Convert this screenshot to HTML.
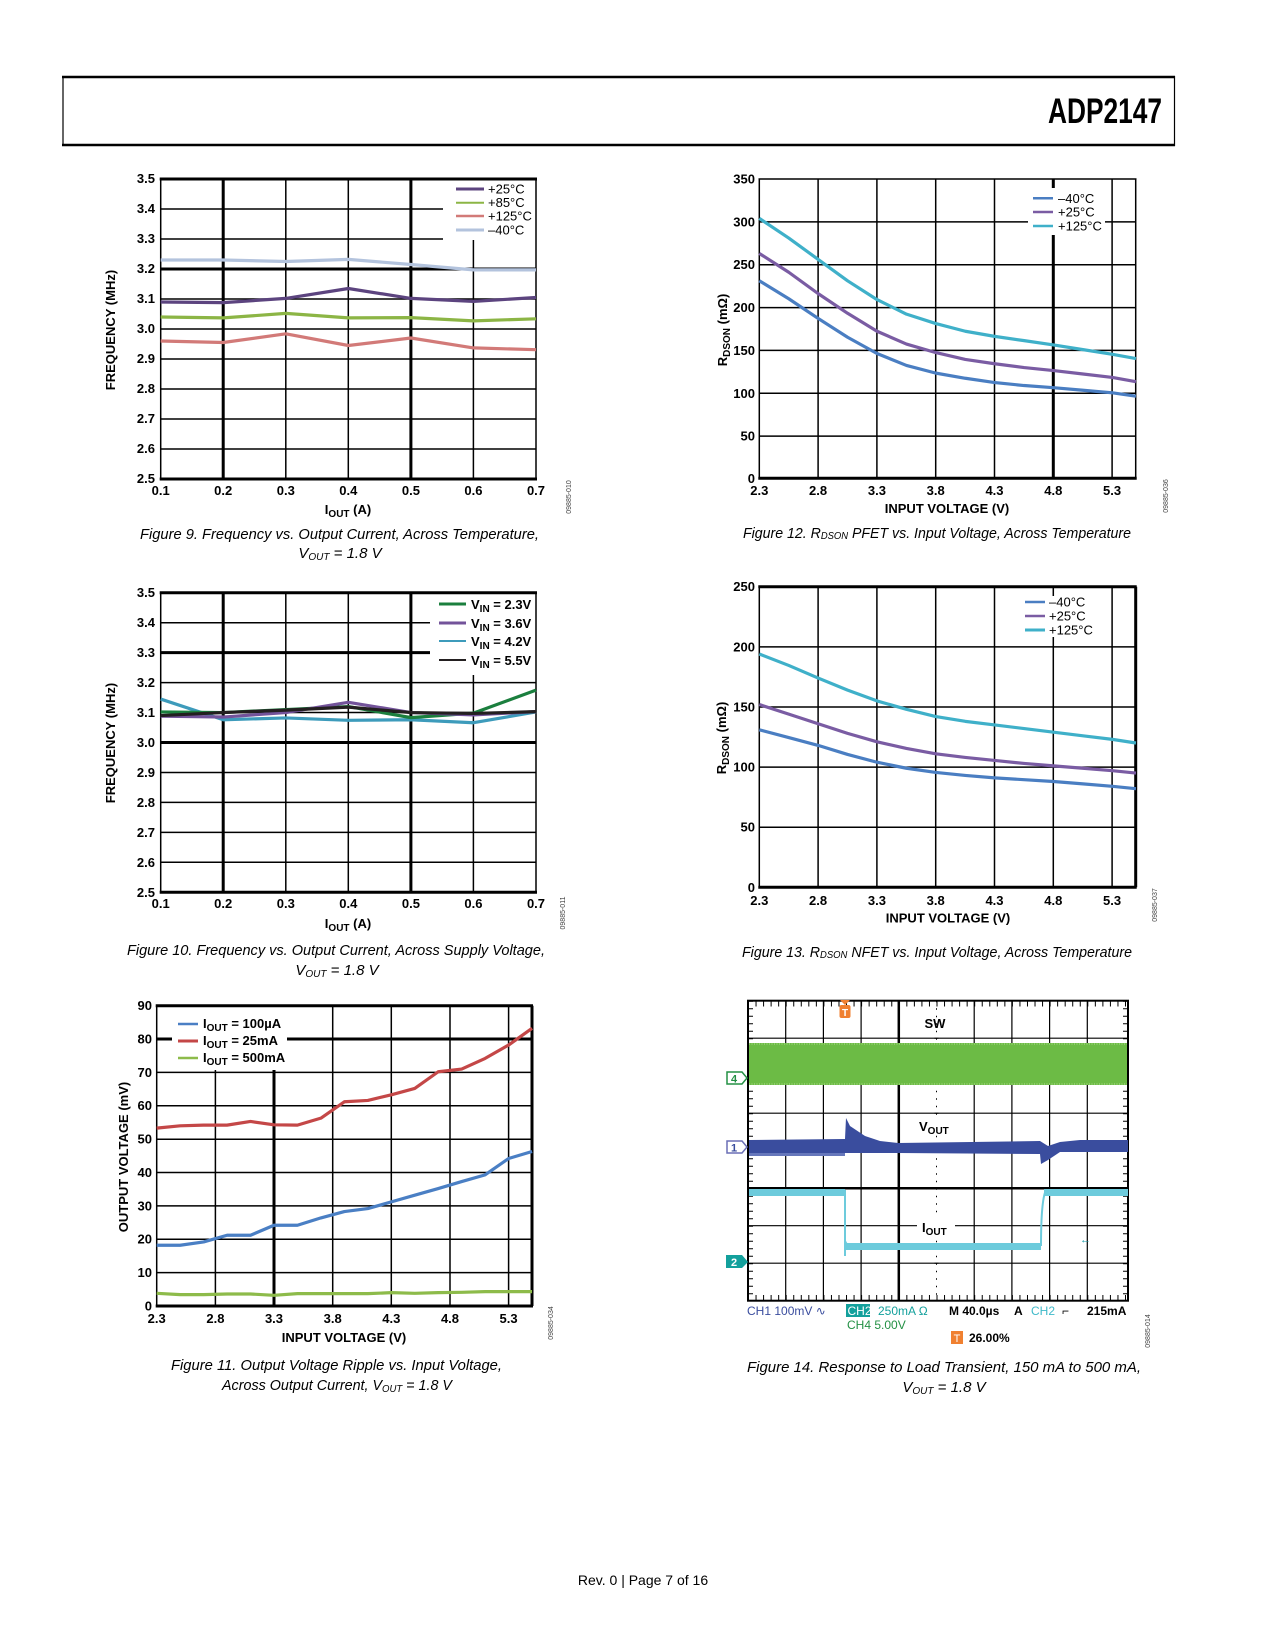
<!DOCTYPE html>
<html><head><meta charset="utf-8"><style>
html,body{margin:0;padding:0;background:#fff;}
svg{display:block;}
.t{font-family:"Liberation Sans",sans-serif;font-weight:bold;font-size:13px;fill:#000;}
.tk{font-family:"Liberation Sans",sans-serif;font-weight:bold;font-size:13px;fill:#000;}
.lg{font-family:"Liberation Sans",sans-serif;font-size:13px;fill:#000;}
.cap{font-family:"Liberation Sans",sans-serif;font-style:italic;font-size:15px;fill:#000;}
.code{font-family:"Liberation Sans",sans-serif;font-size:7px;fill:#444;}
.g{stroke:#000;stroke-width:1.5;fill:none;}
.gk{stroke:#000;stroke-width:3;fill:none;}
.s{fill:none;stroke-width:3.2;vector-effect:non-scaling-stroke;stroke-linejoin:round;}
.sc{font-family:"Liberation Sans",sans-serif;font-weight:bold;font-size:13px;}
</style></head><body>
<svg width="1275" height="1650" viewBox="0 0 1275 1650" xmlns="http://www.w3.org/2000/svg">
<rect width="1275" height="1650" fill="#fff"/>
<!-- header -->
<line x1="62" y1="77" x2="1175" y2="77" stroke="#000" stroke-width="2.5"/>
<line x1="62" y1="145" x2="1175" y2="145" stroke="#000" stroke-width="2.5"/>
<line x1="63" y1="76" x2="63" y2="146" stroke="#000" stroke-width="1.2"/>
<line x1="1174.5" y1="76" x2="1174.5" y2="146" stroke="#000" stroke-width="1.2"/>
<text x="1048" y="123" font-family="Liberation Sans Narrow, Liberation Sans, sans-serif" font-weight="bold" font-size="35" textLength="114" lengthAdjust="spacingAndGlyphs">ADP2147</text>

<!-- ===== FIG 9 ===== -->
<g>
<line class="g" x1="285.8" y1="179" x2="285.8" y2="479"/><line class="g" x1="348.3" y1="179" x2="348.3" y2="479"/>
<line class="g" x1="473.4" y1="240" x2="473.4" y2="479"/>
<line class="gk" x1="223.2" y1="179" x2="223.2" y2="479"/><line class="gk" x1="410.9" y1="179" x2="410.9" y2="479"/>
<line class="g" x1="160.7" y1="209" x2="443" y2="209"/><line class="g" x1="160.7" y1="239" x2="443" y2="239"/>
<line class="gk" x1="160.7" y1="269" x2="536" y2="269"/>
<line class="g" x1="160.7" y1="299" x2="536" y2="299"/><line class="g" x1="160.7" y1="329" x2="536" y2="329"/>
<line class="g" x1="160.7" y1="359" x2="536" y2="359"/><line class="g" x1="160.7" y1="389" x2="536" y2="389"/>
<line class="g" x1="160.7" y1="419" x2="536" y2="419"/><line class="g" x1="160.7" y1="449" x2="536" y2="449"/>
<line class="gk" x1="159.7" y1="179" x2="537" y2="179"/><line class="gk" x1="159.7" y1="479" x2="537" y2="479"/>
<line class="g" x1="160.7" y1="179" x2="160.7" y2="479"/><line class="g" x1="536" y1="179" x2="536" y2="479"/>
<g transform="translate(98.15,1229) scale(625.5,-300)">
<polyline class="s" stroke="#b3c3dd" points="0.1,3.23 0.2,3.23 0.3,3.225 0.4,3.232 0.5,3.215 0.6,3.197 0.7,3.197"/>
<polyline class="s" stroke="#5c447f" points="0.1,3.09 0.2,3.088 0.3,3.102 0.4,3.135 0.5,3.102 0.6,3.092 0.7,3.105"/>
<polyline class="s" stroke="#8cb545" points="0.1,3.04 0.2,3.037 0.3,3.052 0.4,3.037 0.5,3.038 0.6,3.027 0.7,3.034"/>
<polyline class="s" stroke="#d27a78" points="0.1,2.96 0.2,2.955 0.3,2.984 0.4,2.945 0.5,2.97 0.6,2.937 0.7,2.931"/>
</g>
<line x1="456" y1="189" x2="484" y2="189" stroke="#5c447f" stroke-width="3"/><text class="lg" x="488" y="193.5">+25°C</text>
<line x1="456" y1="202.7" x2="484" y2="202.7" stroke="#8cb545" stroke-width="2"/><text class="lg" x="488" y="207">+85°C</text>
<line x1="456" y1="216" x2="484" y2="216" stroke="#d27a78" stroke-width="2.5"/><text class="lg" x="488" y="220.5">+125°C</text>
<line x1="456" y1="230" x2="484" y2="230" stroke="#b3c3dd" stroke-width="3"/><text class="lg" x="488" y="234.5">–40°C</text>
<g class="tk" text-anchor="end">
<text x="155" y="183">3.5</text><text x="155" y="213">3.4</text><text x="155" y="243">3.3</text><text x="155" y="273">3.2</text><text x="155" y="303">3.1</text><text x="155" y="333">3.0</text><text x="155" y="363">2.9</text><text x="155" y="393">2.8</text><text x="155" y="423">2.7</text><text x="155" y="453">2.6</text><text x="155" y="483">2.5</text>
</g>
<g class="tk" text-anchor="middle">
<text x="160.7" y="495">0.1</text><text x="223.2" y="495">0.2</text><text x="285.8" y="495">0.3</text><text x="348.3" y="495">0.4</text><text x="410.9" y="495">0.5</text><text x="473.4" y="495">0.6</text><text x="536" y="495">0.7</text>
</g>
<text class="t" x="348" y="514" text-anchor="middle">I<tspan font-size="10" dy="3">OUT</tspan><tspan dy="-3"> (A)</tspan></text>
<text class="t" transform="translate(115,330) rotate(-90)" text-anchor="middle">FREQUENCY (MHz)</text>
<text class="code" transform="translate(571,497) rotate(-90)" text-anchor="middle">09885-010</text>
<text class="cap" x="140" y="539" textLength="399" lengthAdjust="spacingAndGlyphs">Figure 9. Frequency vs. Output Current, Across Temperature,</text>
<text class="cap" x="340" y="558" text-anchor="middle">V<tspan font-size="10" dy="2">OUT</tspan><tspan dy="-2"> = 1.8 V</tspan></text>
</g>

<!-- ===== FIG 10 ===== -->
<g>
<line class="g" x1="285.8" y1="592.7" x2="285.8" y2="892.3"/><line class="g" x1="348.3" y1="592.7" x2="348.3" y2="892.3"/>
<line class="g" x1="473.4" y1="675" x2="473.4" y2="892.3"/>
<line class="gk" x1="223.2" y1="592.7" x2="223.2" y2="892.3"/><line class="gk" x1="410.9" y1="592.7" x2="410.9" y2="892.3"/>
<line class="g" x1="160.7" y1="622.7" x2="430" y2="622.7"/><line class="gk" x1="160.7" y1="652.6" x2="430" y2="652.6"/>
<line class="g" x1="160.7" y1="682.6" x2="536" y2="682.6"/><line class="g" x1="160.7" y1="712.5" x2="536" y2="712.5"/>
<line class="gk" x1="160.7" y1="742.5" x2="536" y2="742.5"/><line class="g" x1="160.7" y1="772.5" x2="536" y2="772.5"/>
<line class="g" x1="160.7" y1="802.4" x2="536" y2="802.4"/><line class="g" x1="160.7" y1="832.4" x2="536" y2="832.4"/>
<line class="g" x1="160.7" y1="862.3" x2="536" y2="862.3"/>
<line class="gk" x1="159.7" y1="592.7" x2="537" y2="592.7"/><line class="gk" x1="159.7" y1="892.3" x2="537" y2="892.3"/>
<line class="g" x1="160.7" y1="592.7" x2="160.7" y2="892.3"/><line class="g" x1="536" y1="592.7" x2="536" y2="892.3"/>
<g transform="translate(98.15,1641.3) scale(625.5,-299.6)">
<polyline class="s" stroke="#3d9bbb" points="0.1,3.145 0.2,3.076 0.3,3.082 0.4,3.074 0.5,3.076 0.6,3.066 0.7,3.102"/>
<polyline class="s" stroke="#1b7f3e" points="0.1,3.102 0.2,3.1 0.3,3.11 0.4,3.12 0.5,3.083 0.6,3.098 0.7,3.175"/>
<polyline class="s" stroke="#73539a" points="0.1,3.088 0.2,3.085 0.3,3.1 0.4,3.134 0.5,3.1 0.6,3.092 0.7,3.103"/>
<polyline class="s" stroke="#231f20" points="0.1,3.09 0.2,3.1 0.3,3.108 0.4,3.118 0.5,3.1 0.6,3.097 0.7,3.103"/>
</g>
<line x1="439" y1="604" x2="466" y2="604" stroke="#1b7f3e" stroke-width="3"/><text class="t" x="471" y="609">V<tspan font-size="10" dy="3">IN</tspan><tspan dy="-3"> = 2.3V</tspan></text>
<line x1="439" y1="623" x2="466" y2="623" stroke="#73539a" stroke-width="3"/><text class="t" x="471" y="628">V<tspan font-size="10" dy="3">IN</tspan><tspan dy="-3"> = 3.6V</tspan></text>
<line x1="439" y1="641" x2="466" y2="641" stroke="#3d9bbb" stroke-width="2"/><text class="t" x="471" y="646">V<tspan font-size="10" dy="3">IN</tspan><tspan dy="-3"> = 4.2V</tspan></text>
<line x1="439" y1="660" x2="466" y2="660" stroke="#231f20" stroke-width="2"/><text class="t" x="471" y="665">V<tspan font-size="10" dy="3">IN</tspan><tspan dy="-3"> = 5.5V</tspan></text>
<g class="tk" text-anchor="end">
<text x="155" y="597">3.5</text><text x="155" y="627">3.4</text><text x="155" y="657">3.3</text><text x="155" y="687">3.2</text><text x="155" y="717">3.1</text><text x="155" y="747">3.0</text><text x="155" y="777">2.9</text><text x="155" y="807">2.8</text><text x="155" y="837">2.7</text><text x="155" y="867">2.6</text><text x="155" y="897">2.5</text>
</g>
<g class="tk" text-anchor="middle">
<text x="160.7" y="908">0.1</text><text x="223.2" y="908">0.2</text><text x="285.8" y="908">0.3</text><text x="348.3" y="908">0.4</text><text x="410.9" y="908">0.5</text><text x="473.4" y="908">0.6</text><text x="536" y="908">0.7</text>
</g>
<text class="t" x="348" y="928" text-anchor="middle">I<tspan font-size="10" dy="3">OUT</tspan><tspan dy="-3"> (A)</tspan></text>
<text class="t" transform="translate(115,743) rotate(-90)" text-anchor="middle">FREQUENCY (MHz)</text>
<text class="code" transform="translate(565,913) rotate(-90)" text-anchor="middle">09885-011</text>
<text class="cap" x="127" y="955" textLength="418" lengthAdjust="spacingAndGlyphs">Figure 10. Frequency vs. Output Current, Across Supply Voltage,</text>
<text class="cap" x="337" y="975" text-anchor="middle">V<tspan font-size="10" dy="2">OUT</tspan><tspan dy="-2"> = 1.8 V</tspan></text>
</g>

<!-- ===== FIG 11 ===== -->
<g>
<line class="g" x1="215.4" y1="1070" x2="215.4" y2="1306"/><line class="gk" x1="274" y1="1070" x2="274" y2="1306"/>
<line class="g" x1="332.7" y1="1005.7" x2="332.7" y2="1306"/><line class="g" x1="391.3" y1="1005.7" x2="391.3" y2="1306"/>
<line class="g" x1="450" y1="1005.7" x2="450" y2="1306"/><line class="g" x1="508.6" y1="1005.7" x2="508.6" y2="1306"/>
<line class="g" x1="156.7" y1="1272.6" x2="532" y2="1272.6"/><line class="g" x1="156.7" y1="1239.3" x2="532" y2="1239.3"/>
<line class="g" x1="156.7" y1="1205.9" x2="532" y2="1205.9"/><line class="g" x1="156.7" y1="1172.5" x2="532" y2="1172.5"/>
<line class="g" x1="156.7" y1="1139.2" x2="532" y2="1139.2"/><line class="g" x1="156.7" y1="1105.8" x2="532" y2="1105.8"/>
<line class="g" x1="156.7" y1="1072.4" x2="532" y2="1072.4"/>
<line class="gk" x1="156.7" y1="1039" x2="172" y2="1039"/><line class="gk" x1="287" y1="1039" x2="532" y2="1039"/>
<line class="gk" x1="155.7" y1="1005.7" x2="533" y2="1005.7"/><line class="gk" x1="155.7" y1="1306" x2="533" y2="1306"/>
<line class="g" x1="156.7" y1="1005.7" x2="156.7" y2="1306"/><line class="gk" x1="532" y1="1005.7" x2="532" y2="1306"/>
<g transform="translate(-113.1,1306) scale(117.3,-3.337)">
<polyline class="s" stroke="#8dbb4a" points="2.3,3.8 2.5,3.4 2.7,3.4 2.9,3.6 3.1,3.6 3.3,3.2 3.5,3.7 3.7,3.7 3.9,3.7 4.1,3.7 4.3,4.0 4.5,3.8 4.7,4.0 4.9,4.1 5.1,4.3 5.3,4.3 5.5,4.3"/>
<polyline class="s" stroke="#4a7fc4" points="2.3,18.2 2.5,18.2 2.7,19.2 2.9,21.2 3.1,21.2 3.3,24.2 3.5,24.2 3.7,26.4 3.9,28.3 4.1,29.2 4.3,31.2 4.5,33.2 4.7,35.2 4.9,37.3 5.1,39.3 5.3,44.2 5.5,46.3"/>
<polyline class="s" stroke="#c44747" points="2.3,53.3 2.5,54 2.7,54.2 2.9,54.2 3.1,55.3 3.3,54.3 3.5,54.2 3.7,56.3 3.9,61.2 4.1,61.6 4.3,63.3 4.5,65.2 4.7,70.2 4.9,71 5.1,74.2 5.3,78.2 5.5,83.2"/>
</g>
<line x1="178" y1="1024" x2="198" y2="1024" stroke="#4a7fc4" stroke-width="2.5"/><text class="t" x="203" y="1028">I<tspan font-size="10" dy="3">OUT</tspan><tspan dy="-3"> = 100µA</tspan></text>
<line x1="178" y1="1041" x2="198" y2="1041" stroke="#c44747" stroke-width="3"/><text class="t" x="203" y="1045">I<tspan font-size="10" dy="3">OUT</tspan><tspan dy="-3"> = 25mA</tspan></text>
<line x1="178" y1="1058" x2="198" y2="1058" stroke="#8dbb4a" stroke-width="2.5"/><text class="t" x="203" y="1062">I<tspan font-size="10" dy="3">OUT</tspan><tspan dy="-3"> = 500mA</tspan></text>
<g class="tk" text-anchor="end">
<text x="152" y="1010">90</text><text x="152" y="1043.4">80</text><text x="152" y="1076.8">70</text><text x="152" y="1110">60</text><text x="152" y="1143.6">50</text><text x="152" y="1177">40</text><text x="152" y="1210.3">30</text><text x="152" y="1243.7">20</text><text x="152" y="1277">10</text><text x="152" y="1310.4">0</text>
</g>
<g class="tk" text-anchor="middle">
<text x="156.7" y="1323">2.3</text><text x="215.4" y="1323">2.8</text><text x="274" y="1323">3.3</text><text x="332.7" y="1323">3.8</text><text x="391.3" y="1323">4.3</text><text x="450" y="1323">4.8</text><text x="508.6" y="1323">5.3</text>
</g>
<text class="t" x="344" y="1342" text-anchor="middle">INPUT VOLTAGE (V)</text>
<text class="t" transform="translate(128,1157) rotate(-90)" text-anchor="middle">OUTPUT VOLTAGE (mV)</text>
<text class="code" transform="translate(553,1323) rotate(-90)" text-anchor="middle">09885-034</text>
<text class="cap" x="171" y="1370" textLength="331" lengthAdjust="spacingAndGlyphs">Figure 11. Output Voltage Ripple vs. Input Voltage,</text>
<text class="cap" x="222" y="1390" textLength="230" lengthAdjust="spacingAndGlyphs">Across Output Current, V<tspan font-size="10" dy="2">OUT</tspan><tspan dy="-2"> = 1.8 V</tspan></text>
</g>

<!-- ===== FIG 12 ===== -->
<g>
<line class="g" x1="818.1" y1="179" x2="818.1" y2="478.3"/><line class="g" x1="876.9" y1="179" x2="876.9" y2="478.3"/>
<line class="g" x1="935.7" y1="179" x2="935.7" y2="478.3"/><line class="g" x1="994.5" y1="179" x2="994.5" y2="478.3"/>
<line class="gk" x1="1053.3" y1="235" x2="1053.3" y2="478.3"/><line class="gk" x1="1053.3" y1="179" x2="1053.3" y2="188"/>
<line class="g" x1="1112.1" y1="179" x2="1112.1" y2="478.3"/>
<line class="g" x1="759.3" y1="221.9" x2="1028" y2="221.9"/><line class="g" x1="1105" y1="221.9" x2="1135.7" y2="221.9"/>
<line class="g" x1="759.3" y1="264.7" x2="1135.7" y2="264.7"/><line class="g" x1="759.3" y1="307.6" x2="1135.7" y2="307.6"/>
<line class="g" x1="759.3" y1="350.4" x2="1135.7" y2="350.4"/><line class="g" x1="759.3" y1="393.3" x2="1135.7" y2="393.3"/>
<line class="g" x1="759.3" y1="436.1" x2="1135.7" y2="436.1"/>
<line class="g" x1="758.5" y1="179" x2="1136.5" y2="179"/><line class="gk" x1="758.3" y1="478.3" x2="1136.7" y2="478.3"/>
<line class="g" x1="759.3" y1="179" x2="759.3" y2="478.3"/><line class="g" x1="1135.7" y1="179" x2="1135.7" y2="478.3"/>
<g transform="translate(488.6,478.3) scale(117.7,-0.855)">
<polyline class="s" stroke="#4a7ec2" points="2.3,231 2.55,210 2.8,187 3.05,165 3.3,146 3.55,132 3.8,123 4.05,117 4.3,112 4.55,108.5 4.8,106 5.05,103 5.3,100 5.5,96"/>
<polyline class="s" stroke="#7a5ca3" points="2.3,263 2.55,241 2.8,216 3.05,193 3.3,172 3.55,157 3.8,147 4.05,139 4.3,134 4.55,129.5 4.8,126 5.05,122 5.3,118 5.5,113"/>
<polyline class="s" stroke="#3fb0c9" points="2.3,304 2.55,281 2.8,256 3.05,231 3.3,209 3.55,192 3.8,181 4.05,172 4.3,166 4.55,161 4.8,156 5.05,150.5 5.3,145 5.5,140"/>
</g>
<line x1="1033" y1="198.3" x2="1053" y2="198.3" stroke="#4a7ec2" stroke-width="2.5"/><text class="lg" x="1058" y="203">–40°C</text>
<line x1="1033" y1="212" x2="1053" y2="212" stroke="#7a5ca3" stroke-width="2.5"/><text class="lg" x="1058" y="216.7">+25°C</text>
<line x1="1033" y1="226" x2="1053" y2="226" stroke="#3fb0c9" stroke-width="2.5"/><text class="lg" x="1058" y="230.7">+125°C</text>
<g class="tk" text-anchor="end">
<text x="755" y="183.5">350</text><text x="755" y="226.4">300</text><text x="755" y="269.2">250</text><text x="755" y="312.1">200</text><text x="755" y="355">150</text><text x="755" y="397.8">100</text><text x="755" y="440.6">50</text><text x="755" y="482.8">0</text>
</g>
<g class="tk" text-anchor="middle">
<text x="759.3" y="495">2.3</text><text x="818.1" y="495">2.8</text><text x="876.9" y="495">3.3</text><text x="935.7" y="495">3.8</text><text x="994.5" y="495">4.3</text><text x="1053.3" y="495">4.8</text><text x="1112.1" y="495">5.3</text>
</g>
<text class="t" x="947" y="513" text-anchor="middle">INPUT VOLTAGE (V)</text>
<text class="t" transform="translate(727,330) rotate(-90)" text-anchor="middle">R<tspan font-size="10" dy="3">DSON</tspan><tspan dy="-3"> (mΩ)</tspan></text>
<text class="code" transform="translate(1168,496) rotate(-90)" text-anchor="middle">09885-036</text>
<text class="cap" x="743" y="538" textLength="388" lengthAdjust="spacingAndGlyphs">Figure 12. R<tspan font-size="10" dy="1">DSON</tspan><tspan dy="-1"> PFET vs. Input Voltage, Across Temperature</tspan></text>
</g>

<!-- ===== FIG 13 ===== -->
<g>
<line class="g" x1="818.1" y1="586.7" x2="818.1" y2="887.3"/><line class="g" x1="876.9" y1="586.7" x2="876.9" y2="887.3"/>
<line class="g" x1="935.7" y1="586.7" x2="935.7" y2="887.3"/><line class="g" x1="994.5" y1="586.7" x2="994.5" y2="887.3"/>
<line class="g" x1="1053.3" y1="637" x2="1053.3" y2="887.3"/><line class="g" x1="1053.3" y1="586.7" x2="1053.3" y2="596"/>
<line class="g" x1="1112.1" y1="586.7" x2="1112.1" y2="887.3"/>
<line class="g" x1="759.3" y1="646.9" x2="1135.7" y2="646.9"/><line class="g" x1="759.3" y1="707" x2="1135.7" y2="707"/>
<line class="g" x1="759.3" y1="767.1" x2="1135.7" y2="767.1"/><line class="g" x1="759.3" y1="827.2" x2="1135.7" y2="827.2"/>
<line class="gk" x1="758.3" y1="586.7" x2="1136.7" y2="586.7"/><line class="gk" x1="758.3" y1="887.3" x2="1136.7" y2="887.3"/>
<line class="g" x1="759.3" y1="586.7" x2="759.3" y2="887.3"/><line class="gk" x1="1135.7" y1="586.7" x2="1135.7" y2="887.3"/>
<g transform="translate(488.6,887.3) scale(117.7,-1.2025)">
<polyline class="s" stroke="#4a7ec2" points="2.3,131 2.55,124.5 2.8,118 3.05,110.5 3.3,104 3.55,99 3.8,95.5 4.05,93 4.3,91 4.55,89.5 4.8,88 5.05,86 5.3,84 5.5,82"/>
<polyline class="s" stroke="#7a5ca3" points="2.3,152 2.55,144 2.8,136 3.05,128 3.3,121 3.55,115.5 3.8,111 4.05,108 4.3,105.5 4.55,103 4.8,101 5.05,99 5.3,97 5.5,95"/>
<polyline class="s" stroke="#3fb0c9" points="2.3,194 2.55,184.5 2.8,174 3.05,164 3.3,155 3.55,148 3.8,142 4.05,138 4.3,135 4.55,132 4.8,129 5.05,126 5.3,123 5.5,120"/>
</g>
<line x1="1025" y1="602" x2="1045" y2="602" stroke="#4a7ec2" stroke-width="2.5"/><text class="lg" x="1049" y="606.5">–40°C</text>
<line x1="1025" y1="616" x2="1045" y2="616" stroke="#7a5ca3" stroke-width="2.5"/><text class="lg" x="1049" y="620.5">+25°C</text>
<line x1="1025" y1="630" x2="1045" y2="630" stroke="#3fb0c9" stroke-width="3"/><text class="lg" x="1049" y="634.5">+125°C</text>
<g class="tk" text-anchor="end">
<text x="755" y="591">250</text><text x="755" y="651.4">200</text><text x="755" y="711.5">150</text><text x="755" y="771.6">100</text><text x="755" y="831.7">50</text><text x="755" y="891.8">0</text>
</g>
<g class="tk" text-anchor="middle">
<text x="759.3" y="905">2.3</text><text x="818.1" y="905">2.8</text><text x="876.9" y="905">3.3</text><text x="935.7" y="905">3.8</text><text x="994.5" y="905">4.3</text><text x="1053.3" y="905">4.8</text><text x="1112.1" y="905">5.3</text>
</g>
<text class="t" x="948" y="922.7" text-anchor="middle">INPUT VOLTAGE (V)</text>
<text class="t" transform="translate(726,738) rotate(-90)" text-anchor="middle">R<tspan font-size="10" dy="3">DSON</tspan><tspan dy="-3"> (mΩ)</tspan></text>
<text class="code" transform="translate(1157,905) rotate(-90)" text-anchor="middle">09885-037</text>
<text class="cap" x="742" y="957" textLength="390" lengthAdjust="spacingAndGlyphs">Figure 13. R<tspan font-size="10" dy="1">DSON</tspan><tspan dy="-1"> NFET vs. Input Voltage, Across Temperature</tspan></text>
</g>

<!-- ===== FIG 14 scope ===== -->
<g>
<g stroke="#000" stroke-width="1.2">
<line x1="785.7" y1="1000.7" x2="785.7" y2="1300.7"/><line x1="823.4" y1="1000.7" x2="823.4" y2="1300.7"/>
<line x1="861.1" y1="1000.7" x2="861.1" y2="1300.7"/><line x1="974.2" y1="1000.7" x2="974.2" y2="1300.7"/>
<line x1="1011.9" y1="1000.7" x2="1011.9" y2="1300.7"/><line x1="1049.6" y1="1000.7" x2="1049.6" y2="1300.7"/>
<line x1="1087.3" y1="1000.7" x2="1087.3" y2="1300.7"/>
<line x1="748" y1="1038.2" x2="1128" y2="1038.2"/><line x1="748" y1="1075.7" x2="1128" y2="1075.7"/>
<line x1="748" y1="1113.2" x2="1128" y2="1113.2"/><line x1="748" y1="1150.7" x2="1128" y2="1150.7"/>
<line x1="748" y1="1225.7" x2="1128" y2="1225.7"/><line x1="748" y1="1263.2" x2="1128" y2="1263.2"/>
</g>
<line x1="898.8" y1="1000.7" x2="898.8" y2="1300.7" stroke="#000" stroke-width="2.5"/>
<line x1="748" y1="1188.2" x2="1128" y2="1188.2" stroke="#000" stroke-width="2.5"/>
<line x1="936.5" y1="1000.7" x2="936.5" y2="1300.7" stroke="#000" stroke-width="1" stroke-dasharray="1.5 6"/>
<line x1="936.5" y1="1000.7" x2="936.5" y2="1300.7" stroke="#000" stroke-width="4" stroke-dasharray="1 36.5" stroke-dashoffset="-37"/>
<line x1="748" y1="1004" x2="1128" y2="1004" stroke="#000" stroke-width="5" stroke-dasharray="1 6.54"/>
<line x1="748" y1="1297.5" x2="1128" y2="1297.5" stroke="#000" stroke-width="5" stroke-dasharray="1 6.54"/>
<line x1="751" y1="1000.7" x2="751" y2="1300.7" stroke="#000" stroke-width="4" stroke-dasharray="1 6.5"/>
<line x1="1125" y1="1000.7" x2="1125" y2="1300.7" stroke="#000" stroke-width="4" stroke-dasharray="1 6.5"/>
<rect x="748" y="1000.7" width="380" height="300" fill="none" stroke="#000" stroke-width="2"/>
<!-- SW -->
<rect x="749" y="1043" width="378" height="42" fill="#6cbb45"/>
<line x1="749" y1="1044" x2="1127" y2="1044" stroke="#8fce6c" stroke-width="2" stroke-dasharray="1 1.5"/>
<line x1="749" y1="1084" x2="1127" y2="1084" stroke="#8fce6c" stroke-width="2" stroke-dasharray="1 1.5"/>
<!-- VOUT -->
<path d="M749,1140 L845,1139 L846,1118 L850,1126 L865,1136 L880,1141 L898,1143 L1040,1141 L1040,1154 L898,1153 L845,1153 L749,1153 Z" fill="#3a4d9e"/>
<path d="M749,1153 L845,1153 L845,1156 L749,1156 Z" fill="#6677bb"/>
<path d="M1040,1141 L1048,1146 L1060,1142 L1080,1140 L1128,1140 L1128,1152 L1060,1152 L1048,1160 L1041,1164 L1040,1154 Z" fill="#3a4d9e"/>
<!-- IOUT -->
<rect x="749" y="1189" width="96" height="7" fill="#6dcbdc"/>
<rect x="1044" y="1189" width="84" height="7" fill="#6dcbdc"/>
<rect x="845" y="1243" width="196" height="7" fill="#6dcbdc"/>
<path d="M845,1190 L845,1256 M845,1241 Q847,1246 851,1246 M1041,1246 Q1041,1200 1046,1190" stroke="#6dcbdc" stroke-width="2" fill="none"/>
<!-- labels -->
<text class="sc" x="935" y="1028" text-anchor="middle" font-size="13">SW</text>
<rect x="914" y="1116" width="40" height="18" fill="#fff"/>
<text class="sc" x="919" y="1131" font-size="14">V<tspan font-size="10" dy="3">OUT</tspan></text>
<rect x="917" y="1218" width="38" height="18" fill="#fff"/>
<text class="sc" x="922" y="1232" font-size="14">I<tspan font-size="10" dy="3">OUT</tspan></text>
<text x="1080" y="1243" font-family="Liberation Sans,sans-serif" font-size="11" fill="#1a9aa8">←</text>
<!-- trigger T -->
<path d="M840,1000 L850,1000 L845,1005 Z" fill="#f08030"/>
<rect x="839.5" y="1005" width="11" height="13" rx="2" fill="#f08030"/>
<text x="845" y="1016" text-anchor="middle" font-family="Liberation Sans,sans-serif" font-weight="bold" font-size="10" fill="#fff">T</text>
<!-- channel markers -->
<path d="M727,1072 L742,1072 L747,1078 L742,1084 L727,1084 Z" fill="#fff" stroke="#239044" stroke-width="1.5"/>
<text x="734" y="1082.5" text-anchor="middle" font-family="Liberation Sans,sans-serif" font-weight="bold" font-size="11" fill="#239044">4</text>
<path d="M727,1141 L742,1141 L747,1147 L742,1153 L727,1153 Z" fill="#fff" stroke="#6a6fb5" stroke-width="1.5"/>
<text x="734" y="1151.5" text-anchor="middle" font-family="Liberation Sans,sans-serif" font-weight="bold" font-size="11" fill="#3a4d9e">1</text>
<path d="M726,1255 L742,1255 L748,1262 L742,1268 L726,1268 Z" fill="#13a09c"/>
<text x="734" y="1266" text-anchor="middle" font-family="Liberation Sans,sans-serif" font-weight="bold" font-size="11" fill="#fff">2</text>
<!-- bottom text -->
<g font-family="Liberation Sans,sans-serif" font-size="12">
<text x="747" y="1315" fill="#3a4d9e">CH1  100mV ∿</text>
<rect x="846" y="1304" width="24" height="13" fill="#13a09c"/>
<text x="847.5" y="1315" fill="#fff">CH2</text>
<text x="878" y="1315" fill="#13a09c">250mA Ω</text>
<text x="949" y="1315" fill="#000" font-weight="bold">M 40.0µs</text>
<text x="1014" y="1315" fill="#000" font-weight="bold">A</text>
<text x="1031" y="1315" fill="#3fb9c9">CH2</text>
<text x="1062" y="1315" fill="#000" font-weight="bold">⌐</text>
<text x="1087" y="1315" fill="#000" font-weight="bold">215mA</text>
<text x="847" y="1329" fill="#239044">CH4  5.00V</text>
<rect x="951" y="1331" width="12" height="13" fill="#f08030"/>
<text x="957" y="1342" text-anchor="middle" fill="#fff" font-size="11">T</text>
<text x="969" y="1342" fill="#000" font-weight="bold">26.00%</text>
</g>
<text class="code" transform="translate(1150,1331) rotate(-90)" text-anchor="middle">09885-014</text>
<text class="cap" x="747" y="1372" textLength="394" lengthAdjust="spacingAndGlyphs">Figure 14. Response to Load Transient, 150 mA to 500 mA,</text>
<text class="cap" x="944" y="1392" text-anchor="middle">V<tspan font-size="10" dy="2">OUT</tspan><tspan dy="-2"> = 1.8 V</tspan></text>
</g>

<!-- footer -->
<text x="643" y="1585" text-anchor="middle" font-family="Liberation Sans,sans-serif" font-size="14" fill="#000">Rev. 0 | Page 7 of 16</text>
</svg>
</body></html>
